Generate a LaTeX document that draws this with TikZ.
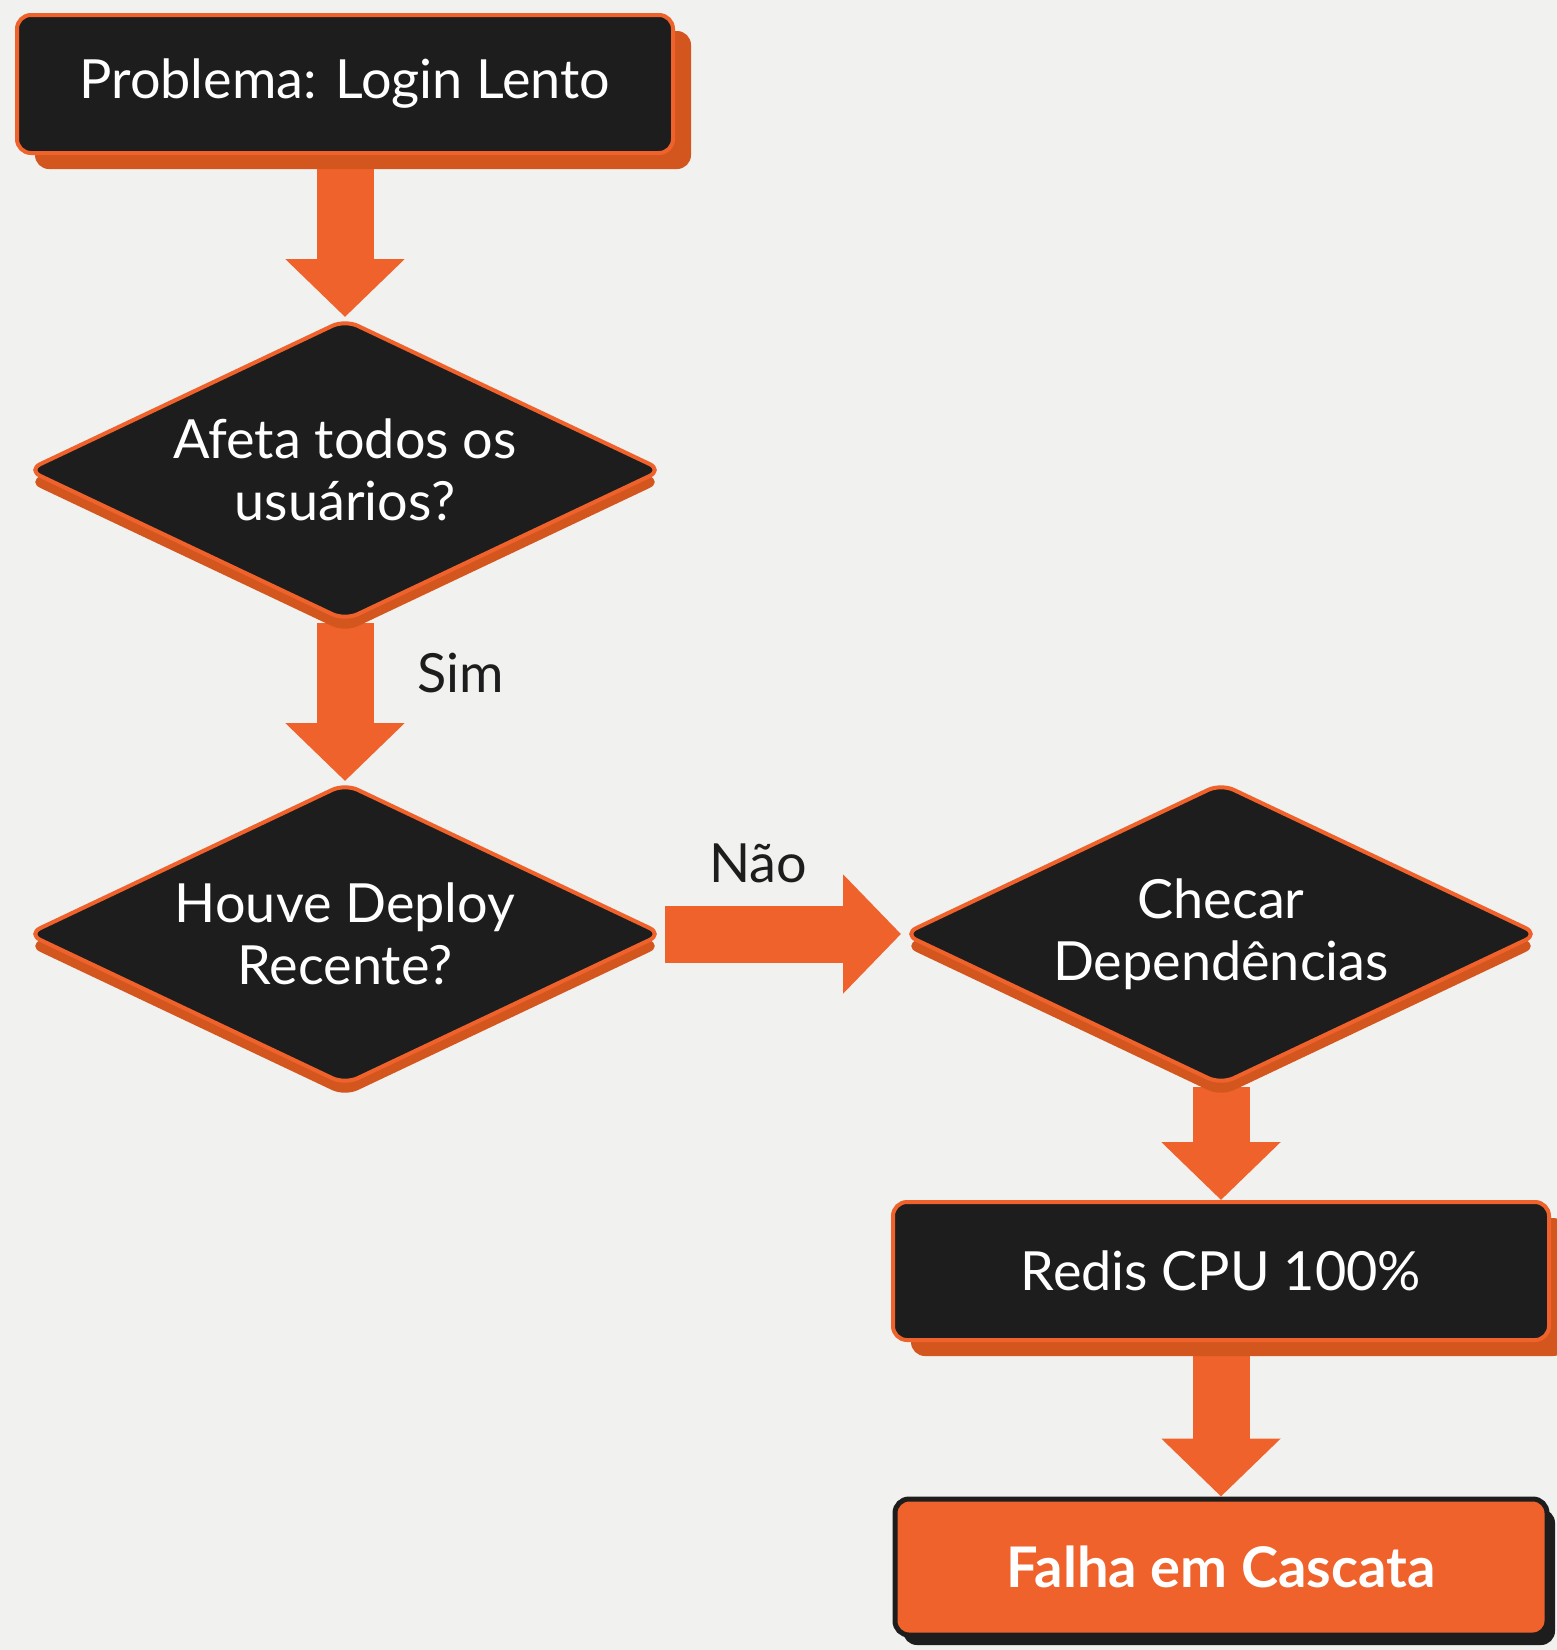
\documentclass[tikz,border=0pt]{standalone}
\usepackage{fontspec}
\setmainfont{Lato}
\usetikzlibrary{shapes.geometric,shadows,arrows.meta,backgrounds}
\definecolor{laranja}{HTML}{F0622B}
\definecolor{laranjaescuro}{HTML}{D4561F}
\definecolor{carvao}{HTML}{1D1D1D}
\definecolor{fundo}{HTML}{F1F1EF}
\begin{document}
\begin{tikzpicture}[x=0.5pt, y=-0.5pt,
  every node/.style = {font=\fontsize{27}{31}\selectfont, align=center},
  caixa/.style = {shape=rectangle, rounded corners=7pt,
    draw=laranja, line width=2pt, fill=carvao, text=white,
    minimum width=328pt, minimum height=69pt,
    drop shadow={shadow xshift=9pt, shadow yshift=-8pt, fill=laranjaescuro, opacity=1}},
  caixafinal/.style = {shape=rectangle, rounded corners=7pt,
    draw=carvao, line width=2.5pt, fill=laranja, text=white,
    minimum width=326pt, minimum height=68pt,
    font=\fontsize{28}{31}\selectfont\bfseries,
    drop shadow={shadow xshift=4pt, shadow yshift=-5pt, fill=carvao, opacity=1}},
  losango/.style = {shape=diamond, aspect=2.4, rounded corners=7pt, inner sep=0pt,
    draw=laranja, line width=2pt, fill=carvao, text=white,
    minimum width=318pt, minimum height=151pt,
    drop shadow={shadow xshift=0pt, shadow yshift=-6pt, fill=laranjaescuro, opacity=1}},
  seta/.style = {draw=laranja, line width=28.5pt, -{Triangle[width=58pt, length=29pt]}},
  rotulo/.style = {text=carvao}]

  % caixas e decisoes
  \node[caixa] (problema) at (345,84) {Problema: Login Lento};
  \node[losango] (afeta) at (345,470) {Afeta todos os\\usuários?};
  \node[losango] (deploy) at (345,934) {Houve Deploy\\Recente?};
  \node[losango] (checar) at (1221,934) {Checar\\Dependências};
  \node[caixa] (redis) at (1221,1271) {Redis CPU 100\%};
  \node[caixafinal] (falha) at (1221,1567) {Falha em Cascata};

  % rotulos
  \node[rotulo, anchor=west] (sim) at (410,673) {Sim};
  \node[rotulo] (nao) at (758,863) {Não};

  % fundo e setas
  \begin{scope}[on background layer]
    \fill[fundo] (0,0) rectangle (1557,1650);
    \draw[seta] (problema.south) -- (afeta.north);
    \draw[seta] (afeta.south) -- (deploy.north);
    \draw[seta] (deploy.east) -- (checar.west);
    \draw[seta] (checar.south) -- (redis.north);
    \draw[seta] (redis.south) -- (falha.north);
  \end{scope}
\end{tikzpicture}
\end{document}
